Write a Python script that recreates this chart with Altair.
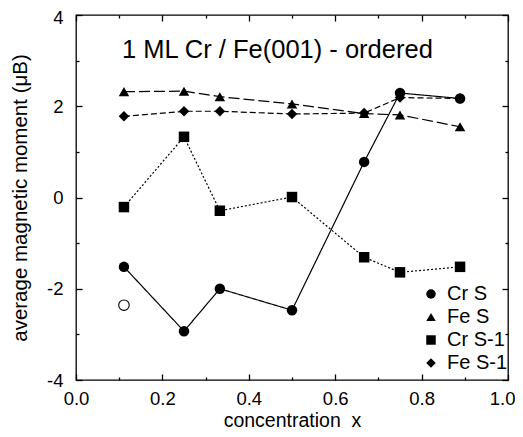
import altair as alt
import pandas as pd

# ---- data ----
conc = [0.111, 0.25, 0.333, 0.5, 0.667, 0.75, 0.889]
cr_s = [-1.52, -2.93, -2.00, -2.47, 0.78, 2.29, 2.17]
fe_s = [2.32, 2.33, 2.21, 2.05, 1.84, 1.81, 1.55]
cr_s1 = [-0.21, 1.33, -0.29, 0.01, -1.31, -1.64, -1.52]
fe_s1 = [1.78, 1.89, 1.89, 1.83, 1.85, 2.19, 2.17]
open_conc = [0.111]
open_val = [-2.36]

series_names = ["Cr S", "Fe S", "Cr S-1", "Fe S-1"]
series_shapes = ["circle", "triangle-up", "square", "diamond"]
series_dash = [[1, 0], [11, 4], [2, 2], [6, 3]]

x_major = [0.0, 0.2, 0.4, 0.6, 0.8, 1.0]
x_minor = [0.1, 0.3, 0.5, 0.7, 0.9]
y_major = [-4, -2, 0, 2, 4]
y_minor = [-3, -1, 1, 3]

title_text = "1 ML Cr / Fe(001) - ordered"
x_title = "concentration \u00a0x"
y_title = "average magnetic moment (\u03bcB)"

FONT = "Liberation Sans"

rows = []
for name, vals in zip(series_names, [cr_s, fe_s, cr_s1, fe_s1]):
    for c, v in zip(conc, vals):
        rows.append({"x": c, "y": v, "series": name})
df = pd.DataFrame(rows)
df_open = pd.DataFrame({"x": open_conc, "y": open_val})

xs = alt.Scale(domain=[0, 1], nice=False, zero=False)
ys = alt.Scale(domain=[-4, 4], nice=False, zero=False)


def axis_layer(xaxis, yaxis):
    return alt.Chart(df_open).mark_point(opacity=0).encode(
        x=alt.X("x:Q", scale=xs, axis=xaxis),
        y=alt.Y("y:Q", scale=ys, axis=yaxis),
    )


ax_major = axis_layer(
    alt.Axis(orient="bottom", values=x_major, format=".1f", offset=-6, tickSize=6,
             labelPadding=9, labelFlush=False, labelFontSize=18.5,
             labelAlign={"condition": {"test": "datum.value >= 1", "value": "right"},
                         "value": "center"},
             labelOffset={"condition": {"test": "datum.value >= 1", "value": 7},
                          "value": 0},
             title=x_title, titleFontSize=19.5, titleBaseline="alphabetic", titleY=52),
    alt.Axis(orient="left", values=y_major, labelExpr="toString(datum.value)",
             offset=-6, tickSize=6, labelPadding=13, labelFlush=False,
             labelOffset={"condition": {"test": "datum.value >= 4", "value": 2.5},
                          "value": 0},
             labelFontSize=18.5, title=y_title, titleFontSize=20.5, titlePadding=16),
)
ax_minor = axis_layer(
    alt.Axis(orient="bottom", values=x_minor, offset=-3, tickSize=3, labels=False, title=None),
    alt.Axis(orient="left", values=y_minor, offset=-3, tickSize=3, labels=False, title=None),
)
ax_top = axis_layer(
    alt.Axis(orient="top", values=x_major, offset=-6, tickSize=6, labels=False, title=None),
    alt.Axis(orient="right", values=y_major, offset=-6, tickSize=6, labels=False, title=None),
)
ax_top_minor = axis_layer(
    alt.Axis(orient="top", values=x_minor, offset=-3, tickSize=3, labels=False, title=None),
    alt.Axis(orient="right", values=y_minor, offset=-3, tickSize=3, labels=False, title=None),
)

line_layers = []
for name, dash in zip(series_names, series_dash):
    line_layers.append(
        alt.Chart(df).transform_filter(alt.datum.series == name)
        .mark_line(color="black", strokeWidth=1.2, strokeDash=dash)
        .encode(
            x=alt.X("x:Q", scale=xs, axis=None),
            y=alt.Y("y:Q", scale=ys, axis=None),
        )
    )

points = alt.Chart(df).mark_point(filled=True, color="black", opacity=1, size=110).encode(
    x=alt.X("x:Q", scale=xs, axis=None),
    y=alt.Y("y:Q", scale=ys, axis=None),
    shape=alt.Shape("series:N", scale=alt.Scale(domain=series_names, range=series_shapes),
                    legend=alt.Legend(orient="none", legendX=345, legendY=269, title=None)),
)

open_pt = alt.Chart(df_open).mark_point(filled=False, color="black", opacity=1, size=110,
                                        strokeWidth=1.1, shape="circle").encode(
    x=alt.X("x:Q", scale=xs, axis=None),
    y=alt.Y("y:Q", scale=ys, axis=None),
)

label = alt.Chart(pd.DataFrame({"t": [title_text]})).mark_text(
    align="left", baseline="alphabetic", fontSize=25.5, font=FONT, color="black"
).encode(x=alt.value(46), y=alt.value(43), text="t:N")

chart = alt.layer(
    ax_major, ax_minor, ax_top, ax_top_minor, *line_layers, points, open_pt, label
).resolve_axis(x="independent", y="independent").properties(
    width=432, height=365,
    autosize=alt.AutoSizeParams(type="none"),
    padding={"left": 68, "top": 7, "right": 7, "bottom": 49},
).configure_view(stroke="black", strokeWidth=1.3).configure_axis(
    labelFont=FONT, titleFont=FONT, titleFontWeight="normal", labelColor="black",
    titleColor="black", tickColor="black", tickWidth=1.3, domain=False, grid=False,
).configure_legend(
    labelFontSize=20, labelFont=FONT, labelColor="black",
    symbolSize=90, symbolFillColor="black", symbolStrokeColor="black",
    symbolStrokeWidth=0, rowPadding=3, labelOffset=6, padding=0,
)

chart.save("out.html", embed_options={"renderer": "svg", "actions": False})
